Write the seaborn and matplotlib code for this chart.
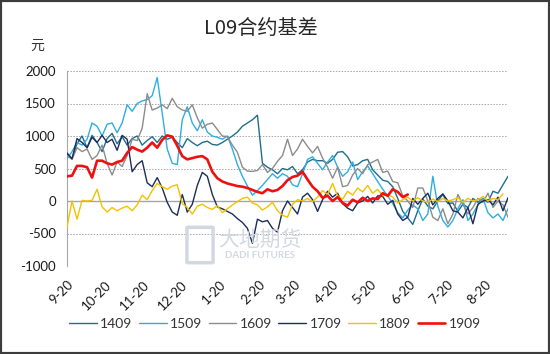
import pandas as pd
import matplotlib
matplotlib.use("Agg")
import matplotlib.pyplot as plt
import seaborn as sns
from matplotlib.patches import Rectangle, FancyBboxPatch

# --- data (basis, yuan) sampled every 4 days from 9-20 ---
start_date = "2018-09-20"
n_points = 89

tick_labels = ["9-20", "10-20", "11-20", "12-20", "1-20", "2-20",
               "3-20", "4-20", "5-20", "6-20", "7-20", "8-20"]

b1409 = [720, 650, 880, 1000, 820, 1010, 900, 760, 960, 1040,
         880, 990, 860, 960, 1000, 860, 930, 990, 900, 1000,
         950, 980, 900, 820, 960, 900, 850, 900, 920, 870,
         860, 900, 950, 1000, 1060, 1150, 1200, 1250, 1320, 580,
         520, 480, 420, 500, 480, 530, 420, 480, 600, 640,
         620, 620, 580, 640, 750, 760, 680, 540, 560, 620,
         640, 480, 400, 320, 300, 220, 40, -160, -260, -360,
         -150, 30, -80, -120, 0, 100, -40, -30, -160, -50,
         -100, 40, -20, 40, -20, 150, 120, 250, 380]

b1509 = [650, 760, 900, 860, 950, 1200, 1150, 1000, 1180, 1200,
         1050, 1200, 1480, 1380, 1500, 1540, 1560, 1620, 1900, 1350,
         800, 580, 560, 1250, 1450, 1200, 1080, 1250, 1060, 1000,
         980, 950, 1000, 800, 560, 380, 230, 90, 160, 240,
         330, 420, 350, 420, 380, 250, 220, 420, 640, 680,
         580, 480, 600, 700, 520, 380, 450, 600, 330, 450,
         540, 420, 300, 180, 80, -40, -180, -260, -140, -60,
         -120, -300, -200, 380, -80, -300, -400, -300, -120, 20,
         -300, -200, -60, 40, -180, -260, -200, -300, -120]

b1609 = [700, 640, 820, 760, 800, 640, 700, 860, 580, 400,
         600, 530, 700, 950, 930, 1120, 1650, 1400, 1430, 1480,
         1420, 1580, 1450, 1400, 1380, 1480, 1280, 1120, 1180, 1200,
         1100, 1000, 990, 860, 750, 520, 460, 455, 470, 560,
         440, 500, 610, 700, 950, 700, 800, 950, 840, 740,
         840, 660, 520, 350, 520, 220, 240, 400, 500, 420,
         560, 600, 640, 440, 460, 300, 280, 80, 0, -100,
         200, 200, 0, -250, -300, -120, -350, -200, 100, -50,
         -200, -100, 40, -20, 120, -100, 0, -60, -250]

b1709 = [740, 650, 960, 900, 820, 980, 900, 1010, 900, 950,
         780, 1010, 950, 450, 560, 620, 280, 220, 360, 200,
         -20, -170, -220, 100, -170, -50, 240, 440, 380, 100,
         -90, -120, -160, -200, -270, -330, -420, -650, -280, -320,
         -300, -420, -480, -150, 0, -100, -200, 60, 120, 20,
         -160, 20, 150, 60, 120, -40, -110, -150, -30, 0,
         70, -30, 80, 70, -50, 10, -200, -300, -250, 40,
         -50, 40, 120, -60, 40, 110, 0, -150, -170, -260,
         -100, -350, -50, 0, 20, -60, 60, -150, 50]

b1809 = [-400, 0, -280, 10, 0, 10, 180, -90, -170, -100,
         -150, -110, -80, -150, -60, 90, 20, 160, 270, 220,
         180, 230, 250, -40, -100, -200, -80, -50, -100, -130,
         -70, -180, -120, -60, -10, 40, 60, -30, -60, -140,
         -90, -20, -150, -220, -250, -50, 20, 0, 40, -10,
         60, 160, 100, 270, 80, 30, 150, 90, 200, 140,
         240, 120, 180, 80, 100, 60, -30, 20, 60, 0,
         50, 0, -20, 30, -10, 40, 0, 20, 50, -20,
         40, 0, 20, 70, 0, 40, 20, 110]

b1909 = [380, 390, 540, 540, 520, 360, 620, 620, 580, 560,
         600, 620, 740, 830, 790, 760, 820, 900, 820, 940,
         1010, 990, 850, 690, 640, 660, 680, 690, 640, 450,
         350, 300, 270, 250, 230, 220, 200, 170, 140, 120,
         180, 150, 170, 230, 320, 370, 390, 450, 330, 220,
         150, 50, 80, 0, 60, -30, -70, 20, -20, 50,
         0, 40, 30, 120, 80, 180, 140, 60, 100]

series = [("1409", b1409, "#1f6e8a", 1.0),
          ("1509", b1509, "#2eaee0", 1.0),
          ("1609", b1609, "#8c8c8c", 1.0),
          ("1709", b1709, "#1c2d58", 1.0),
          ("1809", b1809, "#f2c200", 1.0),
          ("1909", b1909, "#ee1111", 1.9)]

dates = pd.date_range(start_date, periods=n_points, freq="4D")
tick_dates = pd.date_range(start_date, periods=len(tick_labels), freq=pd.DateOffset(months=1))

sns.set_style("white")
plt.rcParams["font.family"] = ["Lato", "Noto Sans CJK SC", "DejaVu Sans"]

fig = plt.figure(figsize=(5.5, 3.54), dpi=100)
ax = fig.add_axes([67 / 550, 1 - 266 / 354, 441 / 550, 195 / 354])

grid_c = "#a6a6a6"
ax.axhline(0, color=grid_c, lw=1.0, zorder=1)

for name, vals, color, lw in series:
    df = pd.DataFrame({"date": dates[:len(vals)], "basis": vals})
    sns.lineplot(data=df, x="date", y="basis", color=color, linewidth=lw,
                 label=name, ax=ax, zorder=3)

ax.set_xlim(dates[0], dates[-1])
ax.set_ylim(-1000, 2000)
ax.set_yticks(range(-1000, 2001, 500))
ax.set_yticklabels([str(v) for v in range(-1000, 2001, 500)])
ax.set_xticks(tick_dates)
ax.set_xticklabels(tick_labels, rotation=45, ha="right", rotation_mode="anchor")
ax.tick_params(axis="y", length=0, pad=8, labelsize=9.5, labelcolor="#1a1a1a")
ax.tick_params(axis="x", length=0, pad=9, labelsize=9.5, labelcolor="#1a1a1a")
ax.set_xlabel("")
ax.set_ylabel("")

ax.grid(axis="y", linestyle=(0, (1.5, 1.5)), color=grid_c, lw=0.7)
ax.grid(axis="x", visible=False)
for s in ["top", "right", "bottom"]:
    ax.spines[s].set_visible(False)
ax.spines["left"].set_color(grid_c)
ax.spines["left"].set_linewidth(0.8)

# legend at bottom
handles, labels = ax.get_legend_handles_labels()
ax.get_legend().remove()
fig.legend(handles, labels, loc="center", bbox_to_anchor=(0.5, 1 - 324 / 354),
           ncol=6, frameon=False, fontsize=10, handlelength=2.0,
           handletextpad=0.25, columnspacing=0.45, labelcolor="#333333")

# title and unit
fig.text(261 / 550, 1 - 29 / 354, "L09合约基差", ha="center", va="center",
         fontsize=14.5, color="#262626", fontweight="light",
         family=["Noto Sans CJK SC", "DejaVu Sans"])
fig.text(37 / 550, 1 - 46 / 354, "元", ha="center", va="center",
         fontsize=10, color="#333333", fontweight="light",
         family=["Noto Sans CJK SC", "DejaVu Sans"])

# faint watermark
wm = "#d3d8e0"
fig.patches.append(FancyBboxPatch((188 / 550, 1 - 262 / 354), 24 / 550, 34 / 354,
                                  boxstyle="round,pad=0.002", transform=fig.transFigure,
                                  fill=False, ec=wm, lw=2.5, zorder=0))
fig.text(260 / 550, 1 - 240 / 354, "大地期货", ha="center", va="center",
         fontsize=15, color=wm, family=["Noto Sans CJK SC", "DejaVu Sans"], zorder=0)
fig.text(260 / 550, 1 - 256 / 354, "DADI FUTURES", ha="center", va="center",
         fontsize=7, color=wm, fontweight="bold", zorder=0)

# outer frame
fig.patches.append(Rectangle((0, 0), 1, 1, transform=fig.transFigure, fill=False,
                             ec="#3c3c3c", lw=3, zorder=10))

fig.savefig("out.png", dpi=100)
